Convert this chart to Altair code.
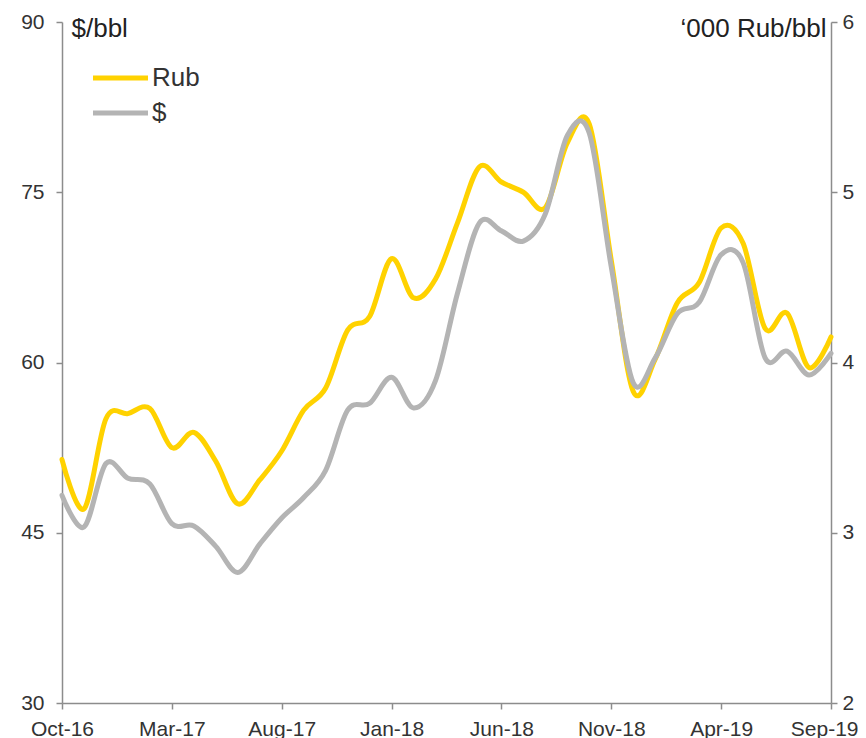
import altair as alt
import pandas as pd

months = ["Oct-16", "Nov-16", "Dec-16", "Jan-17", "Feb-17", "Mar-17", "Apr-17", "May-17",
          "Jun-17", "Jul-17", "Aug-17", "Sep-17", "Oct-17", "Nov-17", "Dec-17", "Jan-18",
          "Feb-18", "Mar-18", "Apr-18", "May-18", "Jun-18", "Jul-18", "Aug-18", "Sep-18",
          "Oct-18", "Nov-18", "Dec-18", "Jan-19", "Feb-19", "Mar-19", "Apr-19", "May-19",
          "Jun-19", "Jul-19", "Aug-19", "Sep-19"]

# '000 Rub/bbl (right axis)
rub = [3.43, 3.14, 3.67, 3.70, 3.73, 3.50, 3.59, 3.42, 3.17, 3.31, 3.48, 3.72,
       3.85, 4.19, 4.27, 4.61, 4.38, 4.49, 4.82, 5.15, 5.06, 5.00, 4.91, 5.29,
       5.40, 4.60, 3.83, 4.02, 4.35, 4.47, 4.79, 4.70, 4.20, 4.29, 3.97, 4.15]

# $/bbl (left axis)
usd = [48.3, 45.5, 51.1, 49.8, 49.3, 45.8, 45.6, 43.8, 41.5, 44.0, 46.3, 48.1,
       50.5, 55.8, 56.4, 58.7, 56.0, 58.4, 66.1, 72.3, 71.6, 70.7, 73.1, 80.0,
       80.2, 68.4, 58.2, 60.4, 64.3, 65.3, 69.5, 68.8, 60.4, 61.0, 58.9, 60.8]

x_ticks = ["Oct-16", "Mar-17", "Aug-17", "Jan-18", "Jun-18", "Nov-18", "Apr-19", "Sep-19"]
left_ticks = [30, 45, 60, 75, 90]
right_ticks = [2, 3, 4, 5, 6]
series_names = ["Rub", "$"]
series_colors = ["#FFD200", "#B4B4B4"]

df = pd.DataFrame({
    "month": months * 2,
    "order": list(range(len(months))) * 2,
    "series": ["Rub"] * len(months) + ["$"] * len(months),
    "value": rub + usd,
})

FONT = "Liberation Sans"
AXIS_GRAY = "#8c8c8c"
TEXT = "#333333"
last_label = x_ticks[-1]

x_enc = alt.X(
    "month:O",
    sort=months,
    scale=alt.Scale(type="point", padding=0),
    axis=alt.Axis(
        values=x_ticks, labelAngle=0, title=None, tickSize=6,
        labelPadding=9, labelFontSize=21,
        labelAlign=alt.condition(f"datum.label == '{last_label}'",
                                 alt.value("right"), alt.value("center")),
        labelOffset=alt.condition(f"datum.label == '{last_label}'",
                                  alt.value(27), alt.value(0)),
    ),
)

color_enc = alt.Color(
    "series:N",
    scale=alt.Scale(domain=series_names, range=series_colors),
    legend=alt.Legend(
        title=None, orient="none", legendX=28.5, legendY=44,
        symbolType="stroke", symbolSize=3025, symbolStrokeWidth=5,
        labelFontSize=26, labelColor=TEXT, labelFont=FONT,
        clipHeight=24, rowPadding=9, padding=0, labelOffset=1.5,
    ),
)

base = alt.Chart(df)

rub_line = base.transform_filter(alt.datum.series == "Rub").mark_line(
    strokeWidth=5, interpolate="cardinal", strokeCap="round"
).encode(
    x=x_enc,
    y=alt.Y(
        "value:Q",
        scale=alt.Scale(domain=[2, 6], nice=False, zero=False),
        axis=alt.Axis(orient="right", values=right_ticks, title="\u2018000 Rub/bbl",
                      titleAngle=0, titleAlign="right", titleBaseline="alphabetic",
                      titleX=-5, titleY=14, titleFontSize=26, titleFontWeight="normal",
                      titleColor="#222222", titleFont=FONT, tickSize=6,
                      labelPadding=5, labelFontSize=21),
    ),
    color=color_enc,
)

usd_line = base.transform_filter(alt.datum.series == "$").mark_line(
    strokeWidth=5, interpolate="cardinal", strokeCap="round"
).encode(
    x=x_enc,
    y=alt.Y(
        "value:Q",
        scale=alt.Scale(domain=[30, 90], nice=False, zero=False),
        axis=alt.Axis(orient="left", values=left_ticks, title="$/bbl",
                      titleAngle=0, titleAlign="left", titleBaseline="alphabetic",
                      titleX=9, titleY=14, titleFontSize=26, titleFontWeight="normal",
                      titleColor="#222222", titleFont=FONT, tickSize=6,
                      labelPadding=12, labelFontSize=21),
    ),
    color=color_enc,
)

chart = alt.layer(rub_line, usd_line).resolve_scale(
    y="independent"
).properties(
    width=769, height=681,
    autosize=alt.AutoSizeParams(type="none"),
    padding={"left": 54, "top": 14, "right": 27, "bottom": 36},
).configure_view(
    stroke=None
).configure_axis(
    grid=False, domainColor=AXIS_GRAY, tickColor=AXIS_GRAY, domainWidth=1.5,
    tickWidth=1.5, labelColor=TEXT, labelFont=FONT, titleFont=FONT,
)

chart.save("out.html", embed_options={"renderer": "svg", "actions": False})
